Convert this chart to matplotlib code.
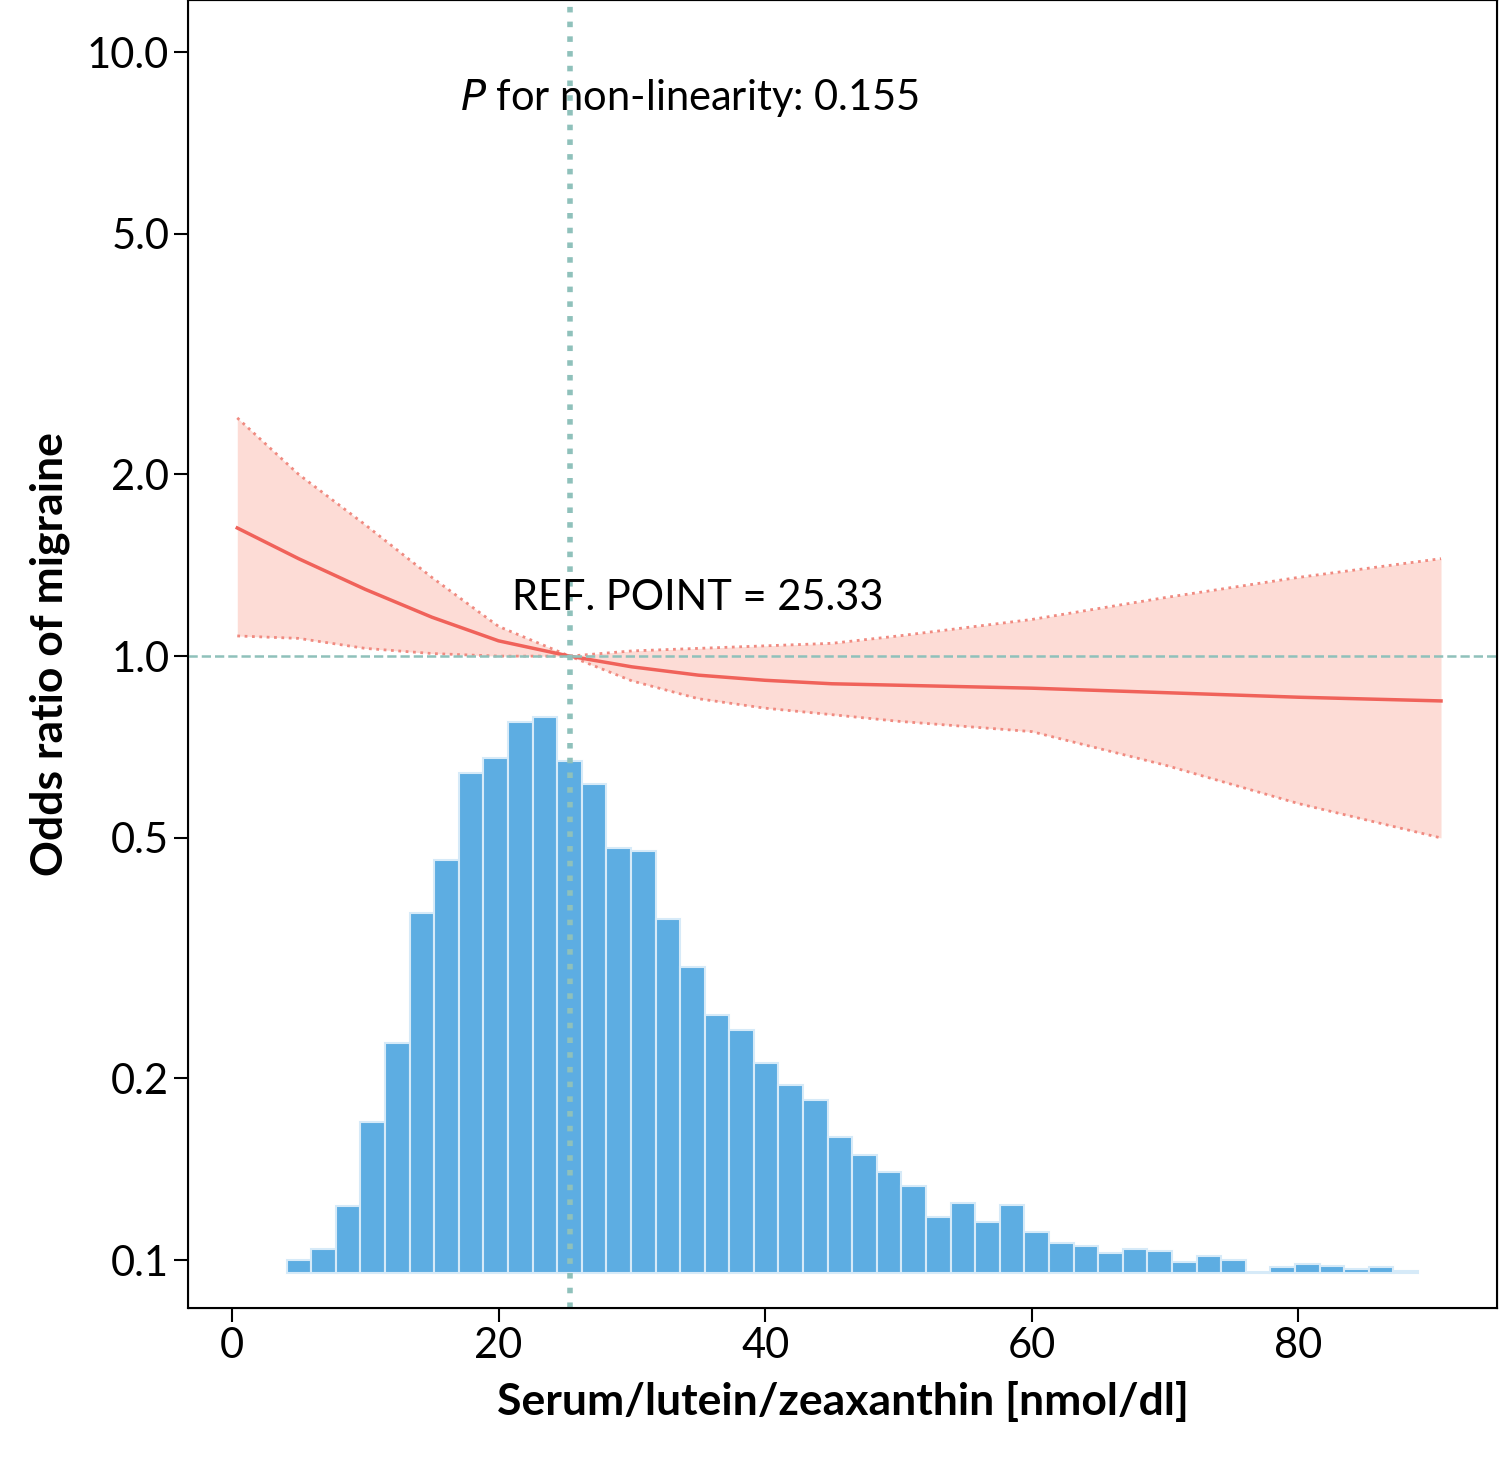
import matplotlib
matplotlib.use("Agg")
import matplotlib.pyplot as plt
import numpy as np

plt.rcParams['font.family'] = ['Lato', 'DejaVu Sans']

# histogram (relative heights)
bin_start = 4.1
bin_width = 1.845
bar_tops = [1260,1249,1206,1122,1043,913,860,773,758,722,717,761,784,848,851,919,967,1015,1030,1063,
            1085,1100,1137,1155,1172,1186,1217,1203,1222,1205,1232,1243,1246,1253,1249,1251,1262,1256,
            1260,1272,1267,1264,1266,1269,1267,1271]
counts = [1273 - t for t in bar_tops]

# spline curve
cx = [0.4, 5, 10, 15, 20, 25.33, 30, 35, 40, 45, 50, 60, 70, 80, 90.7]
or_ = [1.63, 1.45, 1.29, 1.16, 1.06, 1.0, 0.96, 0.93, 0.912, 0.90, 0.895, 0.885, 0.87, 0.855, 0.843]
up = [2.48, 2.0, 1.65, 1.35, 1.12, 1.0, 1.02, 1.03, 1.04, 1.05, 1.08, 1.15, 1.25, 1.35, 1.45]
lo = [1.08, 1.07, 1.03, 1.01, 1.0, 1.0, 0.91, 0.85, 0.82, 0.80, 0.78, 0.75, 0.66, 0.57, 0.50]

fig = plt.figure(figsize=(15, 14.75), dpi=100)
ax = fig.add_axes([0.1253, 0.1132, 0.8727, 0.8868])
ax2 = ax.twinx()
ax.set_zorder(ax2.get_zorder() + 1)
ax.patch.set_visible(False)

lefts = bin_start + bin_width * np.arange(len(counts))
ax2.bar(lefts, counts, width=bin_width, align='edge', color='#5dade2', edgecolor='#d6eaf8', linewidth=1.5)
ax2.set_ylim(-35, 1273)
ax2.set_yticks([])

ax.fill_between(cx, lo, up, color='#fddcd6', linewidth=0)
ax.plot(cx, up, color='#f08a80', ls=':', lw=2)
ax.plot(cx, lo, color='#f08a80', ls=':', lw=2)
ax.plot(cx, or_, color='#f0625a', lw=2.5)

ax.set_yscale('log')
ax.set_xlim(-3.3, 94.9)
ax.set_ylim(0.0833, 12.2)
ax.axhline(1.0, color='#8fc1bb', ls='--', lw=1.8)
ax.axvline(25.33, color='#8fc1bb', ls=':', lw=4)

yt = [0.1, 0.2, 0.5, 1.0, 2.0, 5.0, 10.0]
ax.set_yticks(yt)
ax.set_yticklabels([f"{v:.1f}" for v in yt])
ax.yaxis.set_minor_locator(matplotlib.ticker.NullLocator())
ax.set_xticks([0, 20, 40, 60, 80])
ax.tick_params(labelsize=30, length=10, width=1.5)
for s in ax.spines.values():
    s.set_linewidth(1.5)

ax.set_xlabel('Serum/lutein/zeaxanthin [nmol/dl]', fontsize=32, fontweight='bold', labelpad=12)
ax.set_ylabel('Odds ratio of migraine', fontsize=32, fontweight='bold', labelpad=12)

ax.text(17.1, 8.4, r'$\it{P}$ for non-linearity: 0.155', fontsize=30, va='center')
ax.text(21.0, 1.25, 'REF. POINT = 25.33', fontsize=30, va='center')

fig.savefig('out.png')
